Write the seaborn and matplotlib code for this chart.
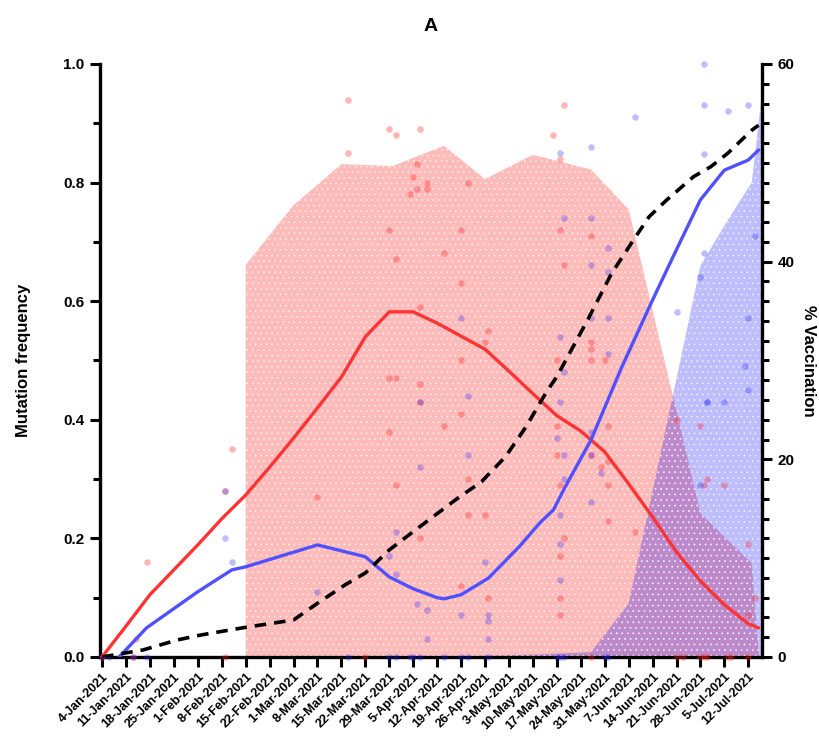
import numpy as np
import pandas as pd
import matplotlib
matplotlib.use("Agg")
import matplotlib.pyplot as plt
from matplotlib.ticker import MultipleLocator
import seaborn as sns

sns.set_style("ticks")
plt.rcParams["font.family"] = ["Liberation Sans", "DejaVu Sans"]
plt.rcParams["font.weight"] = "bold"
plt.rcParams["axes.labelweight"] = "bold"
plt.rcParams["text.color"] = "black"
plt.rcParams["axes.labelcolor"] = "black"
plt.rcParams["xtick.color"] = "black"
plt.rcParams["ytick.color"] = "black"
plt.rcParams["hatch.linewidth"] = 0.5

# ---- variant prevalence (filled areas, left axis) ----
alpha_fill_dates = ["2021-02-15", "2021-03-01", "2021-03-15", "2021-03-30", "2021-04-14",
                    "2021-04-26", "2021-05-10", "2021-05-27", "2021-06-07", "2021-06-20",
                    "2021-06-28", "2021-07-06", "2021-07-13", "2021-07-15"]
alpha_fill_vals = [0.661, 0.762, 0.831, 0.828, 0.862, 0.806, 0.847, 0.822, 0.755, 0.439,
                   0.242, 0.197, 0.158, 0.006]

delta_fill_dates = ["2021-04-12", "2021-05-10", "2021-05-27", "2021-06-07", "2021-06-28",
                    "2021-07-06", "2021-07-13", "2021-07-16"]
delta_fill_vals = [0.0, 0.004, 0.008, 0.09, 0.66, 0.737, 0.80, 0.95]

# ---- smoothed mutation frequency (left axis) ----
red_line_dates = ["2021-01-04", "2021-01-11", "2021-01-18", "2021-01-25", "2021-02-01",
                  "2021-02-08", "2021-02-15", "2021-02-22", "2021-03-01", "2021-03-08",
                  "2021-03-15", "2021-03-22", "2021-03-29", "2021-04-05", "2021-04-12",
                  "2021-04-19", "2021-04-26", "2021-05-03", "2021-05-10", "2021-05-17",
                  "2021-05-24", "2021-05-31", "2021-06-07", "2021-06-14", "2021-06-21",
                  "2021-06-28", "2021-07-05", "2021-07-12", "2021-07-15"]
red_line_vals = [0.0, 0.052, 0.105, 0.147, 0.189, 0.233, 0.273, 0.320, 0.369, 0.420,
                 0.472, 0.540, 0.582, 0.582, 0.563, 0.541, 0.519, 0.482, 0.444, 0.407,
                 0.381, 0.346, 0.292, 0.236, 0.177, 0.128, 0.088, 0.056, 0.049]

blue_line_dates = ["2021-01-09", "2021-01-17", "2021-02-01", "2021-02-11", "2021-02-15",
                   "2021-03-08", "2021-03-22", "2021-03-29", "2021-04-05", "2021-04-12",
                   "2021-04-14", "2021-04-19", "2021-04-27", "2021-05-06", "2021-05-12",
                   "2021-05-16", "2021-05-19", "2021-05-27", "2021-06-05", "2021-06-14",
                   "2021-06-20", "2021-06-28", "2021-07-05", "2021-07-12", "2021-07-15"]
blue_line_vals = [0.0, 0.049, 0.110, 0.147, 0.152, 0.189, 0.169, 0.135, 0.115, 0.100,
                  0.098, 0.105, 0.133, 0.186, 0.226, 0.248, 0.282, 0.366, 0.489, 0.602,
                  0.675, 0.771, 0.821, 0.838, 0.855]

# ---- vaccination coverage (right axis) ----
vacc_dates = ["2021-01-04", "2021-01-16", "2021-01-26", "2021-02-02", "2021-02-15",
              "2021-03-01", "2021-03-08", "2021-03-16", "2021-03-22", "2021-03-29",
              "2021-04-05", "2021-04-18", "2021-04-25", "2021-05-02", "2021-05-08",
              "2021-05-14", "2021-05-17", "2021-05-26", "2021-06-02", "2021-06-09",
              "2021-06-13", "2021-06-18", "2021-06-26", "2021-07-01", "2021-07-06",
              "2021-07-13", "2021-07-15"]
vacc_vals = [0.0, 0.71, 1.72, 2.23, 3.0, 3.74, 5.43, 7.28, 8.5, 10.83, 12.68, 16.06,
             17.74, 20.27, 23.3, 26.84, 28.36, 34.1, 38.8, 42.5, 44.55, 46.2, 48.6,
             49.6, 50.97, 53.3, 53.8]

# ---- individual sample frequencies ----
red_pt_dates = (["2021-01-14", "2021-01-17", "2021-02-09", "2021-02-11", "2021-03-08"]
                + ["2021-03-17"] * 2 + ["2021-03-29"] * 4 + ["2021-03-31"] * 4
                + ["2021-04-04", "2021-04-05"] + ["2021-04-06"] * 2 + ["2021-04-07"] * 5
                + ["2021-04-09"] * 2 + ["2021-04-14"] * 2 + ["2021-04-19"] * 5
                + ["2021-04-21"] * 3 + ["2021-04-26"] * 2 + ["2021-04-27"] * 2
                + ["2021-05-16"] + ["2021-05-17"] * 3 + ["2021-05-18"] * 6 + ["2021-05-19"] * 3
                + ["2021-05-27"] * 5 + ["2021-05-30", "2021-05-31"] + ["2021-06-01"] * 4
                + ["2021-06-09", "2021-06-21", "2021-06-28", "2021-06-29", "2021-06-30",
                   "2021-07-05"] + ["2021-07-12"] * 2 + ["2021-07-14"]
                + ["2021-01-04", "2021-01-13", "2021-02-09", "2021-03-22", "2021-05-27",
                   "2021-06-21", "2021-06-23", "2021-06-28", "2021-06-29", "2021-06-30",
                   "2021-07-06", "2021-07-07", "2021-07-12"])
red_pt_vals = ([0.03, 0.16, 0.28, 0.35, 0.27]
               + [0.94, 0.85] + [0.89, 0.72, 0.47, 0.38] + [0.88, 0.671, 0.471, 0.29]
               + [0.78, 0.81] + [0.831, 0.79] + [0.89, 0.59, 0.46, 0.43, 0.20]
               + [0.80, 0.79] + [0.681, 0.39] + [0.72, 0.63, 0.50, 0.41, 0.12]
               + [0.80, 0.30, 0.24] + [0.531, 0.24] + [0.55, 0.10]
               + [0.88] + [0.50, 0.39, 0.34] + [0.84, 0.72, 0.29, 0.17, 0.10, 0.071]
               + [0.93, 0.661, 0.20]
               + [0.71, 0.531, 0.52, 0.501, 0.34] + [0.32, 0.501] + [0.39, 0.33, 0.29, 0.23]
               + [0.21, 0.40, 0.39, 0.29, 0.30, 0.29] + [0.19, 0.071] + [0.10]
               + [0.0] * 13)

blue_pt_dates = (["2021-02-09"] * 2 + ["2021-02-11", "2021-03-08", "2021-03-29"]
                 + ["2021-03-31"] * 2 + ["2021-04-06"] + ["2021-04-07"] * 2
                 + ["2021-04-09"] * 2 + ["2021-04-19"] * 2 + ["2021-04-21"] * 2
                 + ["2021-04-26"] + ["2021-04-27"] * 3 + ["2021-05-17"]
                 + ["2021-05-18"] * 6 + ["2021-05-19"] * 4 + ["2021-05-27"] * 7
                 + ["2021-05-30"] + ["2021-06-01"] * 4 + ["2021-06-09", "2021-06-21"]
                 + ["2021-06-28"] * 2 + ["2021-06-29"] * 4 + ["2021-06-30"] * 2
                 + ["2021-07-05", "2021-07-06", "2021-07-11"] + ["2021-07-12"] * 3
                 + ["2021-07-14"]
                 + ["2021-01-04", "2021-01-06", "2021-01-13", "2021-01-17", "2021-03-17",
                    "2021-03-29", "2021-03-31", "2021-04-04", "2021-04-05", "2021-04-07",
                    "2021-04-14", "2021-04-19", "2021-04-21", "2021-04-27", "2021-05-17",
                    "2021-05-18", "2021-05-19", "2021-05-31", "2021-06-01"])
blue_pt_vals = ([0.28, 0.20, 0.16, 0.11, 0.17] + [0.21, 0.14] + [0.09] + [0.43, 0.32]
                + [0.08, 0.03] + [0.571, 0.07] + [0.44, 0.34] + [0.16] + [0.07, 0.06, 0.03]
                + [0.37] + [0.85, 0.54, 0.43, 0.24, 0.19, 0.13] + [0.74, 0.48, 0.34, 0.30]
                + [0.86, 0.74, 0.661, 0.571, 0.38, 0.34, 0.261] + [0.31]
                + [0.69, 0.65, 0.571, 0.511] + [0.91, 0.581] + [0.64, 0.29]
                + [1.0, 0.93, 0.849, 0.681] + [0.43, 0.43] + [0.43, 0.92, 0.491]
                + [0.93, 0.571, 0.45] + [0.71]
                + [0.0] * 19)

week_ticks = pd.date_range("2021-01-04", "2021-07-12", freq="7D")

RED = "#ff3333"
BLUE = "#5050ff"

fig = plt.figure(figsize=(8.19, 7.38), dpi=100)
ax = fig.add_axes([0.1221, 0.1098, 0.8083, 0.8035])
ax2 = ax.twinx()

to_dt = pd.to_datetime

# filled prevalence areas with a fine dotted texture
ax.fill_between(to_dt(alpha_fill_dates), 0, alpha_fill_vals,
                facecolor=(1, 0, 0, 0.27), edgecolor=(1, 1, 1, 0.7),
                hatch="...", linewidth=0, zorder=1)
ax.fill_between(to_dt(delta_fill_dates), 0, delta_fill_vals,
                facecolor=(0, 0, 1, 0.26), edgecolor=(1, 1, 1, 0.7),
                hatch="...", linewidth=0, zorder=1.1)

red_pts = pd.DataFrame({"date": to_dt(red_pt_dates), "freq": red_pt_vals})
blue_pts = pd.DataFrame({"date": to_dt(blue_pt_dates), "freq": blue_pt_vals})
sns.scatterplot(data=red_pts, x="date", y="freq", color="#ff2a2a", alpha=0.35,
                s=22, linewidth=0, ax=ax, zorder=3, clip_on=False)
sns.scatterplot(data=blue_pts, x="date", y="freq", color="#2a2aff", alpha=0.3,
                s=22, linewidth=0, ax=ax, zorder=3, clip_on=False)

red_df = pd.DataFrame({"date": to_dt(red_line_dates), "freq": red_line_vals})
blue_df = pd.DataFrame({"date": to_dt(blue_line_dates), "freq": blue_line_vals})
sns.lineplot(data=red_df, x="date", y="freq", color=RED, linewidth=2.4, ax=ax, zorder=4)
sns.lineplot(data=blue_df, x="date", y="freq", color=BLUE, linewidth=2.4, ax=ax, zorder=4)

vacc_df = pd.DataFrame({"date": to_dt(vacc_dates), "pct": vacc_vals})
sns.lineplot(data=vacc_df, x="date", y="pct", color="black", linewidth=2.6,
             linestyle=(0, (3.2, 2.2)), ax=ax2, zorder=5)

# axes limits and ticks
x0 = pd.Timestamp("2021-01-04")
ax.set_xlim(x0 - pd.Timedelta(days=0.6), x0 + pd.Timedelta(days=193))
ax.set_ylim(0, 1.0)
ax2.set_ylim(0, 60)
ax.set_xticks(week_ticks)
ax.set_xticklabels([f"{d.day}-{d.strftime('%b')}-2021" for d in week_ticks],
                   rotation=45, ha="right", rotation_mode="anchor", fontsize=9,
                   fontweight="bold")
ax.set_yticks(np.arange(0, 1.01, 0.2))
ax.set_yticklabels([f"{v:.1f}" for v in np.arange(0, 1.01, 0.2)], fontsize=11,
                   fontweight="bold")
ax.yaxis.set_minor_locator(MultipleLocator(0.1))
ax2.set_yticks([0, 20, 40, 60])
ax2.set_yticklabels(["0", "20", "40", "60"], fontsize=11, fontweight="bold")
ax2.yaxis.set_minor_locator(MultipleLocator(2))

for a in (ax, ax2):
    for side in ("left", "right", "bottom"):
        a.spines[side].set_linewidth(2.4)
        a.spines[side].set_color("black")
    a.spines["top"].set_visible(False)
ax.spines["right"].set_visible(False)
ax2.spines["left"].set_visible(False)
ax2.spines["bottom"].set_visible(False)

ax.tick_params(axis="x", which="major", length=7, width=2.2, pad=3)
ax.tick_params(axis="y", which="major", length=7, width=2.2, pad=4)
ax.tick_params(axis="y", which="minor", length=5, width=2.2)
ax2.tick_params(axis="y", which="major", length=7, width=2.2, pad=4)
ax2.tick_params(axis="y", which="minor", length=5, width=2.2)

ax.set_xlabel("")
ax.set_ylabel("Mutation frequency", fontsize=12, fontweight="bold")
ax.yaxis.set_label_coords(-0.104, 0.5)
ax2.set_ylabel("% Vaccination", fontsize=12, fontweight="bold", rotation=270,
               va="center")
ax2.yaxis.set_label_coords(1.07, 0.5)
ax.set_title("A", fontsize=14, fontweight="bold", pad=24)

fig.savefig("out.png", dpi=100)
